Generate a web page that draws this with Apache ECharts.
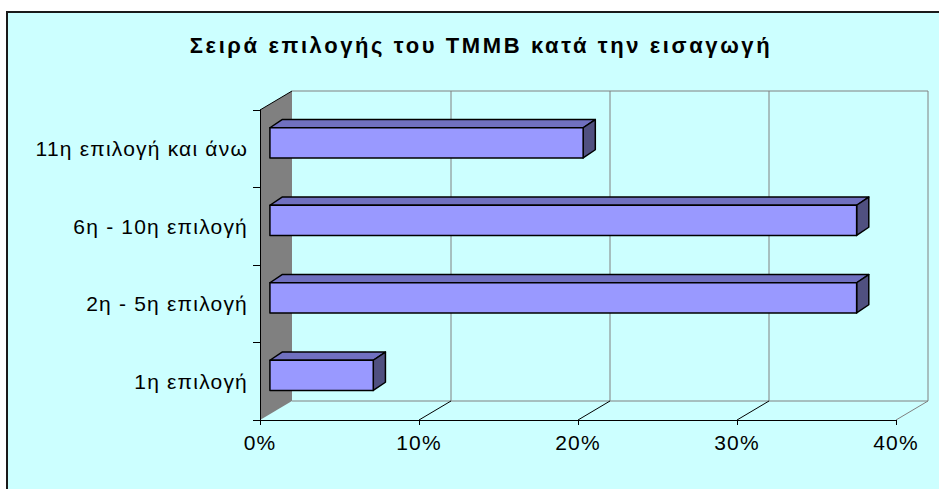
<!DOCTYPE html>
<html>
<head>
<meta charset="utf-8">
<script src="https://cdn.jsdelivr.net/npm/echarts@6/dist/echarts.min.js"></script>
<style>
  html, body { margin: 0; padding: 0; background: #fff; }
  #chart { width: 939px; height: 489px; letter-spacing: 1.2px; }
  #chart text[style*="bold"] { letter-spacing: 2.6px; }
</style>
</head>
<body>
<div id="chart"></div>
<script>
// categories bottom -> top, as drawn by the category axis
const categories = ['1η επιλογή', '2η - 5η επιλογή', '6η - 10η επιλογή', '11η επιλογή και άνω'];
const shares = [6.5, 36.9, 36.9, 19.7];
const valueTicks = [0, 10, 20, 30, 40];
const titleText = 'Σειρά επιλογής του ΤΜΜΒ κατά την εισαγωγή';

// fake 3d depth of the plot box, and where the bars sit inside it
const DEPTH_X = 32, DEPTH_Y = 19;
const BAR_NEAR = 0.31, BAR_FAR = 0.69;
const BAR_RATIO = 0.39;
const FONT = '"Liberation Sans", Arial, sans-serif';

const chart = echarts.init(document.getElementById('chart'), null, { renderer: 'svg' });

function renderWalls(params, api) {
  const cs = params.coordSys;
  const left = cs.x, top = cs.y, bottom = cs.y + cs.height;
  const bx = left + DEPTH_X;
  const grey = { stroke: '#808080', lineWidth: 1 };
  const kids = [];
  kids.push({
    type: 'polygon',
    shape: { points: [[left, top], [bx, top - DEPTH_Y], [bx, bottom - DEPTH_Y], [left, bottom]] },
    style: { fill: '#808080' }
  });
  kids.push({ type: 'line', shape: { x1: left, y1: top, x2: bx, y2: top - DEPTH_Y }, style: { stroke: '#000', lineWidth: 1 } });
  const xEnd = api.coord([valueTicks[valueTicks.length - 1], 0])[0] + DEPTH_X;
  kids.push({ type: 'line', shape: { x1: bx, y1: top - DEPTH_Y, x2: xEnd, y2: top - DEPTH_Y }, style: grey });
  kids.push({ type: 'line', shape: { x1: bx, y1: bottom - DEPTH_Y, x2: xEnd, y2: bottom - DEPTH_Y }, style: grey });
  valueTicks.forEach(function (v, i) {
    if (i === 0) return;
    const x = api.coord([v, 0])[0];
    const last = i === valueTicks.length - 1;
    kids.push({ type: 'line', shape: { x1: x + DEPTH_X, y1: top - DEPTH_Y, x2: x + DEPTH_X, y2: bottom - DEPTH_Y }, style: grey });
    kids.push({ type: 'line', shape: { x1: x, y1: bottom, x2: x + DEPTH_X, y2: bottom - DEPTH_Y },
      style: { stroke: last ? '#808080' : '#000', lineWidth: 1 } });
  });
  return { type: 'group', children: kids };
}

function renderBar(params, api) {
  const v = api.value(0), c = api.value(1);
  const start = api.coord([0, c]);
  const end = api.coord([v, c]);
  const h = api.size([0, 1])[1] * BAR_RATIO;
  const nx = DEPTH_X * BAR_NEAR, ny = DEPTH_Y * BAR_NEAR;
  const dx = DEPTH_X * (BAR_FAR - BAR_NEAR), dy = DEPTH_Y * (BAR_FAR - BAR_NEAR) + 1;
  const x0 = start[0] + nx, x1 = end[0] + nx;
  const yT = start[1] - ny - h / 2, yB = yT + h;
  const edge = { stroke: '#000', lineWidth: 1.5, lineJoin: 'round' };
  return {
    type: 'group',
    children: [
      { type: 'polygon', shape: { points: [[x0, yT], [x0 + dx, yT - dy], [x1 + dx, yT - dy], [x1, yT]] },
        style: Object.assign({ fill: '#7070C0' }, edge) },
      { type: 'polygon', shape: { points: [[x1, yT], [x1 + dx, yT - dy], [x1 + dx, yB - dy], [x1, yB]] },
        style: Object.assign({ fill: '#505080' }, edge) },
      { type: 'rect', shape: { x: x0, y: yT, width: x1 - x0, height: h },
        style: Object.assign({ fill: '#9999FF' }, edge) }
    ]
  };
}

chart.setOption({
  backgroundColor: '#ffffff',
  animation: false,
  graphic: [
    { type: 'rect', z: -10, shape: { x: 7, y: 12, width: 960, height: 500 },
      style: { fill: '#CCFFFF', stroke: '#1a1a1a', lineWidth: 2 } },
    { type: 'text', z: 10, x: 481, y: 45,
      style: { text: titleText, fill: '#000', font: 'bold 22px ' + FONT,
        textAlign: 'center', align: 'center', textVerticalAlign: 'middle', verticalAlign: 'middle' } }
  ],
  grid: { left: 260, right: 43, top: 110, bottom: 69 },
  xAxis: {
    type: 'value', min: 0, max: 40, interval: 10, z: 5,
    axisLine: { show: true, lineStyle: { color: '#000', width: 1 } },
    axisTick: { show: true, length: 5, lineStyle: { color: '#000' } },
    axisLabel: { formatter: '{value}%', color: '#000', fontSize: 21, fontFamily: FONT, margin: 12 },
    splitLine: { show: false }
  },
  yAxis: {
    type: 'category', data: categories, z: 5,
    axisLine: { show: true, lineStyle: { color: '#000', width: 1 } },
    axisTick: { show: true, length: 7, lineStyle: { color: '#000' } },
    axisLabel: { color: '#000', fontSize: 21, fontFamily: FONT, margin: 12 }
  },
  series: [
    { type: 'custom', z: 1, silent: true, renderItem: renderWalls, data: [[0, 0]] },
    { type: 'custom', z: 2, renderItem: renderBar, encode: { x: 0, y: 1 },
      data: shares.map(function (v, i) { return [v, i]; }) }
  ]
});
</script>
</body>
</html>
